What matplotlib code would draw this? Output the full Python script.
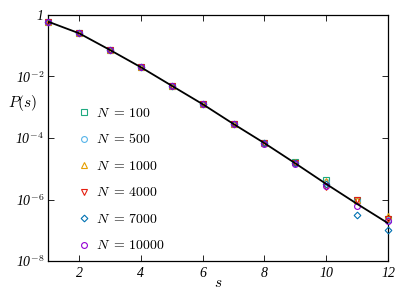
import numpy as np
import matplotlib
matplotlib.use('Agg')
import matplotlib.pyplot as plt
from matplotlib.ticker import FixedLocator, FuncFormatter

plt.rcParams['mathtext.fontset'] = 'cm'
plt.rcParams['font.family'] = 'DejaVu Serif'

s = [1, 2, 3, 4, 5, 6, 7, 8, 9, 10, 11, 12]

# theory curve
p_theory = [0.605, 0.254, 0.0728, 0.0200, 5.0e-3, 1.26e-3, 2.85e-4, 6.8e-5, 1.5e-5, 3.2e-6, 7.2e-7, 1.7e-7]

# simulation data
p_100 = [0.605, 0.254, 0.0728, 0.0200, 5.0e-3, 1.26e-3, 2.85e-4, 7.0e-5, 1.65e-5, 4.3e-6, 9.5e-7, 2.3e-7]
p_500 = [0.605, 0.254, 0.0728, 0.0200, 5.0e-3, 1.26e-3, 2.85e-4, 6.9e-5, 1.55e-5, 3.8e-6, 9.3e-7, 2.2e-7]
p_1000 = [0.605, 0.254, 0.0728, 0.0200, 5.0e-3, 1.26e-3, 2.85e-4, 7.0e-5, 1.6e-5, 4.0e-6, 9.5e-7, 2.9e-7]
p_4000 = [0.605, 0.254, 0.0728, 0.0200, 5.0e-3, 1.26e-3, 2.85e-4, 6.8e-5, 1.5e-5, 2.5e-6, 9.5e-7, 2.3e-7]
p_7000 = [0.605, 0.254, 0.0728, 0.0200, 5.0e-3, 1.26e-3, 2.85e-4, 6.8e-5, 1.5e-5, 3.2e-6, 3.2e-7, 1.0e-7]
p_10000 = [0.605, 0.254, 0.0728, 0.0200, 5.0e-3, 1.26e-3, 2.85e-4, 6.6e-5, 1.4e-5, 2.8e-6, 6.3e-7, 2.0e-7]

series = [
    ('100', p_100, 's', '#1FAA80'),
    ('500', p_500, 'o', '#56B4E9'),
    ('1000', p_1000, '^', '#E69F00'),
    ('4000', p_4000, 'v', '#E51E10'),
    ('7000', p_7000, 'D', '#0072B2'),
    ('10000', p_10000, 'o', '#9400D3'),
]

fig = plt.figure(figsize=(4.15, 2.93), dpi=100)
ax = fig.add_axes([0.116, 0.109, 0.819, 0.840])

for n, p, m, c in series:
    ms = 3.4 if m == 'D' else 4.2
    ax.plot(s, p, ls='none', marker=m, ms=ms, mfc='none', mec=c, mew=0.8,
            label=r'$N\ =\,%s$' % n, clip_on=False, zorder=3)

ax.plot(s, p_theory, color='black', lw=1.3, zorder=4)

ax.set_yscale('log')
ax.set_xlim(1, 12)
ax.set_ylim(1e-8, 1)

ax.xaxis.set_major_locator(FixedLocator([2, 4, 6, 8, 10, 12]))
ax.yaxis.set_major_locator(FixedLocator([1e-8, 1e-6, 1e-4, 1e-2, 1]))
ax.yaxis.set_minor_locator(FixedLocator([]))


def yfmt(v, pos):
    e = int(round(np.log10(v)))
    if e == 0:
        return '1'
    return r'10$^{%d}$' % e


ax.yaxis.set_major_formatter(FuncFormatter(yfmt))
ax.xaxis.set_major_formatter(FuncFormatter(lambda v, pos: '%d' % v))

ax.tick_params(which='both', direction='in', top=True, right=True,
               length=4, width=0.6, labelsize=10)
ax.tick_params(axis='x', pad=4)
ax.tick_params(axis='y', pad=3)
for lab in ax.get_xticklabels() + ax.get_yticklabels():
    lab.set_fontfamily('Liberation Serif')
    lab.set_fontstyle('italic')
for sp in ax.spines.values():
    sp.set_linewidth(0.9)

ax.set_xlabel(r'$s$', fontsize=11, va='center')
ax.xaxis.set_label_coords(0.5, -0.09)
ax.set_ylabel(r'$P(s)$', fontsize=11, rotation=0, va='center', ha='center')
ax.yaxis.set_label_coords(-0.075, 0.642)

ax.legend(loc='lower left', bbox_to_anchor=(0.052, -0.01), frameon=False,
          fontsize=10, labelspacing=0.9, handlelength=1.0,
          handletextpad=0.35, borderpad=0.3)

fig.savefig('out.png', dpi=100)
